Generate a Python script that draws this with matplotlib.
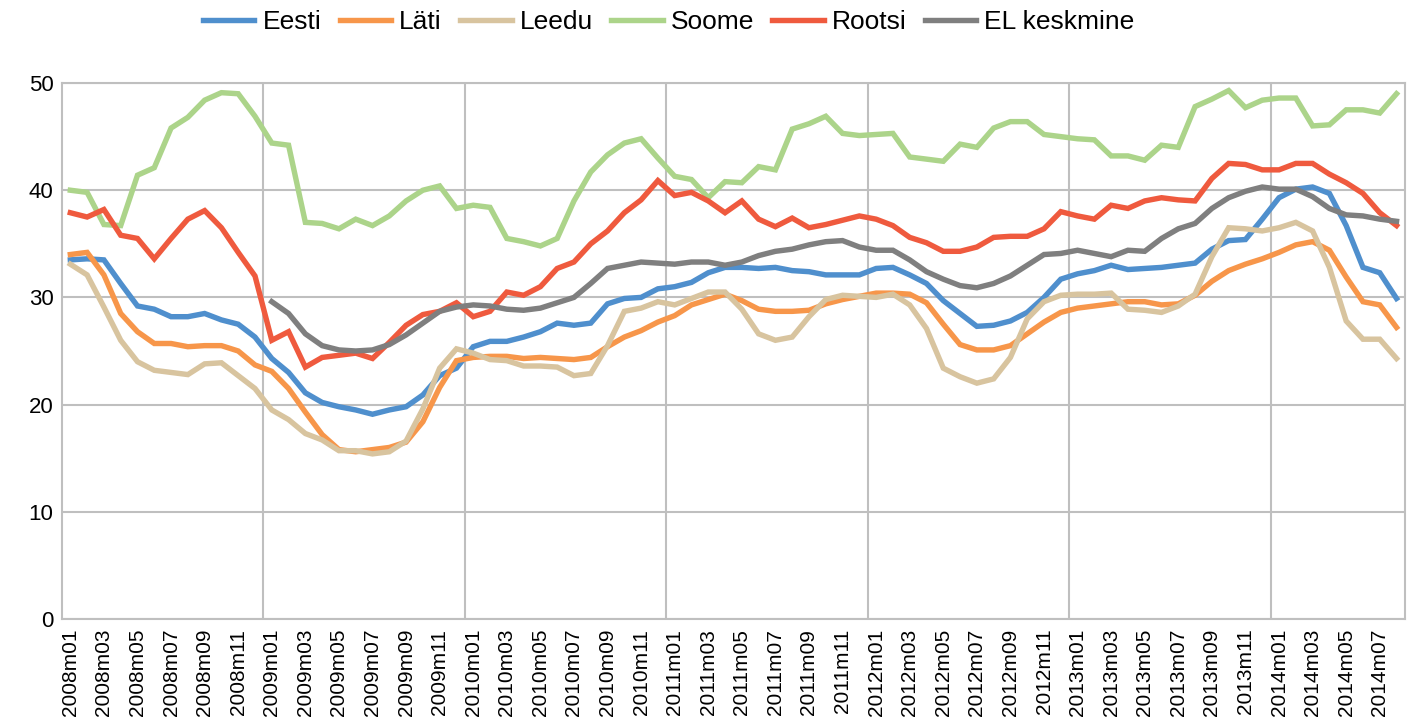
import numpy as np
import matplotlib
matplotlib.use("Agg")
import matplotlib.pyplot as plt

# months 2008m01 .. 2014m08
years = [2008, 2009, 2010, 2011, 2012, 2013, 2014]
months = [f"{y}m{m:02d}" for y in years for m in range(1, 13)][:80]

eesti = [33.5, 33.6, 33.5, 31.3, 29.2, 28.9, 28.2, 28.2, 28.5, 27.9, 27.5, 26.3,
         24.3, 23.0, 21.1, 20.2, 19.8, 19.5, 19.1, 19.5, 19.8, 20.9, 22.7, 23.4,
         25.4, 25.9, 25.9, 26.3, 26.8, 27.6, 27.4, 27.6, 29.4, 29.9, 30.0, 30.8,
         31.0, 31.4, 32.3, 32.8, 32.8, 32.7, 32.8, 32.5, 32.4, 32.1, 32.1, 32.1,
         32.7, 32.8, 32.1, 31.3, 29.7, 28.5, 27.3, 27.4, 27.8, 28.6, 30.0, 31.7,
         32.2, 32.5, 33.0, 32.6, 32.7, 32.8, 33.0, 33.2, 34.5, 35.3, 35.4, 37.3,
         39.3, 40.1, 40.3, 39.7, 36.7, 32.8, 32.3, 29.9]

lati = [34.0, 34.2, 32.1, 28.5, 26.8, 25.7, 25.7, 25.4, 25.5, 25.5, 25.0, 23.7,
        23.1, 21.5, 19.3, 17.2, 15.8, 15.6, 15.8, 16.0, 16.5, 18.4, 21.6, 24.1,
        24.4, 24.5, 24.5, 24.3, 24.4, 24.3, 24.2, 24.4, 25.4, 26.3, 26.9, 27.7,
        28.3, 29.3, 29.8, 30.3, 29.7, 28.9, 28.7, 28.7, 28.8, 29.4, 29.8, 30.1,
        30.4, 30.4, 30.3, 29.5, 27.5, 25.6, 25.1, 25.1, 25.5, 26.6, 27.7, 28.6,
        29.0, 29.2, 29.4, 29.6, 29.6, 29.3, 29.4, 30.2, 31.5, 32.5, 33.1, 33.6,
        34.2, 34.9, 35.2, 34.4, 31.9, 29.6, 29.3, 27.2]

leedu = [33.1, 32.1, 29.1, 26.0, 24.0, 23.2, 23.0, 22.8, 23.8, 23.9, 22.7, 21.5,
         19.5, 18.6, 17.3, 16.7, 15.7, 15.7, 15.4, 15.6, 16.6, 19.6, 23.4, 25.2,
         24.8, 24.2, 24.1, 23.6, 23.6, 23.5, 22.7, 22.9, 25.5, 28.7, 29.0, 29.6,
         29.3, 29.9, 30.5, 30.5, 28.9, 26.6, 26.0, 26.3, 28.2, 29.8, 30.2, 30.1,
         30.0, 30.3, 29.3, 27.1, 23.4, 22.6, 22.0, 22.4, 24.4, 28.0, 29.6, 30.2,
         30.3, 30.3, 30.4, 28.9, 28.8, 28.6, 29.2, 30.3, 33.8, 36.5, 36.4, 36.2,
         36.5, 37.0, 36.2, 32.8, 27.8, 26.1, 26.1, 24.3]

soome = [40.0, 39.8, 36.8, 36.7, 41.4, 42.1, 45.8, 46.8, 48.4, 49.1, 49.0, 46.9,
         44.4, 44.2, 37.0, 36.9, 36.4, 37.3, 36.7, 37.6, 39.0, 40.0, 40.4, 38.3,
         38.6, 38.4, 35.5, 35.2, 34.8, 35.5, 39.0, 41.7, 43.3, 44.4, 44.8, 43.0,
         41.3, 41.0, 39.3, 40.8, 40.7, 42.2, 41.9, 45.7, 46.2, 46.9, 45.3, 45.1,
         45.2, 45.3, 43.1, 42.9, 42.7, 44.3, 44.0, 45.8, 46.4, 46.4, 45.2, 45.0,
         44.8, 44.7, 43.2, 43.2, 42.8, 44.2, 44.0, 47.8, 48.5, 49.3, 47.7, 48.4,
         48.6, 48.6, 46.0, 46.1, 47.5, 47.5, 47.2, 49.0]

rootsi = [37.9, 37.5, 38.2, 35.8, 35.5, 33.6, 35.5, 37.3, 38.1, 36.5, 34.2, 32.0,
          26.0, 26.8, 23.5, 24.4, 24.6, 24.8, 24.3, 25.8, 27.4, 28.4, 28.7, 29.5,
          28.2, 28.7, 30.5, 30.2, 31.0, 32.7, 33.3, 35.0, 36.2, 37.9, 39.1, 40.9,
          39.5, 39.8, 39.0, 37.9, 39.0, 37.3, 36.6, 37.4, 36.5, 36.8, 37.2, 37.6,
          37.3, 36.7, 35.6, 35.1, 34.3, 34.3, 34.7, 35.6, 35.7, 35.7, 36.4, 38.0,
          37.6, 37.3, 38.6, 38.3, 39.0, 39.3, 39.1, 39.0, 41.1, 42.5, 42.4, 41.9,
          41.9, 42.5, 42.5, 41.5, 40.7, 39.7, 37.9, 36.7]

el_keskmine = [np.nan] * 12 + [
    29.6, 28.5, 26.6, 25.5, 25.1, 25.0, 25.1, 25.6, 26.5, 27.6, 28.7, 29.1,
    29.3, 29.2, 28.9, 28.8, 29.0, 29.5, 30.0, 31.3, 32.7, 33.0, 33.3, 33.2,
    33.1, 33.3, 33.3, 33.0, 33.3, 33.9, 34.3, 34.5, 34.9, 35.2, 35.3, 34.7,
    34.4, 34.4, 33.5, 32.4, 31.7, 31.1, 30.9, 31.3, 32.0, 33.0, 34.0, 34.1,
    34.4, 34.1, 33.8, 34.4, 34.3, 35.5, 36.4, 36.9, 38.3, 39.3, 39.9, 40.3,
    40.1, 40.1, 39.4, 38.3, 37.7, 37.6, 37.3, 37.1]

series = [("Eesti", eesti, "#4f8fcd"),
          ("Läti", lati, "#f7964a"),
          ("Leedu", leedu, "#d8c49f"),
          ("Soome", soome, "#acd48a"),
          ("Rootsi", rootsi, "#ef5a3e"),
          ("EL keskmine", el_keskmine, "#7f7f7f")]

plt.rcParams['font.family'] = ['Liberation Sans', 'DejaVu Sans']

fig = plt.figure(figsize=(14.11, 7.22), dpi=100)
ax = fig.add_axes([0.0439, 0.1427, 0.9518, 0.7423])

x = np.arange(len(months))
for name, vals, col in series:
    ax.plot(x, vals, color=col, lw=3.9, label=name, solid_joinstyle='miter')

ax.set_xlim(-0.5, len(months) - 0.5)
ax.set_ylim(0, 50)
ax.set_yticks(range(0, 51, 10))
ax.set_xticks(x[::2])
ax.set_xticklabels(months[::2], rotation=90, fontsize=15)
ax.set_xticks(np.arange(11.5, len(months) - 1, 12), minor=True)
ax.tick_params(axis='x', which='both', length=0, pad=7)
ax.tick_params(axis='y', length=0, pad=6, labelsize=16)

grid_col = "#bfbfbf"
ax.grid(axis='y', which='major', color=grid_col, lw=1.5)
ax.grid(axis='x', which='minor', color=grid_col, lw=1.5)
ax.grid(axis='x', which='major', visible=False)
ax.set_axisbelow(True)
for sp in ax.spines.values():
    sp.set_color(grid_col)
    sp.set_linewidth(1.5)

leg = fig.legend(loc='center', bbox_to_anchor=(0.474, 0.969), ncol=6,
                 frameon=False, handlelength=1.95, handletextpad=0.3,
                 columnspacing=0.7, prop={'size': 19})
for h in leg.get_lines():
    h.set_linewidth(3.9)

fig.savefig("out.png", dpi=100)
